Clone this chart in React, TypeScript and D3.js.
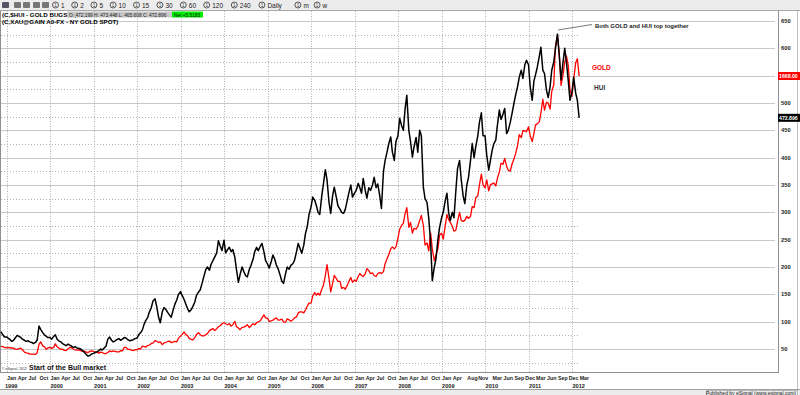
import * as d3 from 'd3';

// semi-monthly samples (1st and 15th), first one is 15 Nov 1998
const hui1998 = [82, 76, 72];
const hui1999 = [72, 70, 67, 64, 66, 70, 75, 73, 71, 68, 66, 64, 65, 63, 62, 60, 62, 66, 92, 86, 80, 76, 73, 71];
const hui2000 = [71, 68, 73, 76, 68, 65, 63, 60, 58, 56, 59, 57, 55, 53, 54, 52, 51, 50, 47, 44, 40, 37, 38, 41];
const hui2001 = [42, 44, 45, 47, 50, 48, 52, 55, 68, 72, 66, 63, 65, 67, 69, 66, 68, 71, 70, 67, 65, 66, 67, 69];
const hui2002 = [70, 76, 80, 85, 95, 102, 108, 118, 126, 138, 142, 128, 108, 98, 118, 126, 122, 117, 112, 108, 122, 132, 140, 150];
const hui2003 = [155, 148, 140, 132, 124, 118, 122, 128, 136, 148, 154, 158, 170, 182, 195, 200, 194, 205, 212, 218, 226, 248, 238, 230];
const hui2004 = [249, 226, 232, 236, 228, 232, 218, 195, 172, 186, 200, 192, 184, 182, 196, 203, 214, 228, 236, 230, 238, 243, 228, 212];
const hui2005 = [205, 198, 210, 222, 215, 204, 196, 186, 174, 170, 188, 200, 196, 203, 206, 212, 228, 243, 234, 225, 240, 261, 275, 296];
const hui2006 = [310, 328, 322, 312, 300, 296, 330, 352, 378, 360, 318, 298, 330, 346, 328, 312, 306, 300, 298, 305, 322, 336, 350, 328];
const hui2007 = [335, 340, 353, 345, 335, 362, 340, 326, 345, 340, 350, 364, 345, 352, 330, 307, 375, 395, 410, 425, 438, 410, 395, 430];
const hui2008 = [440, 472, 458, 450, 490, 514, 450, 430, 401, 420, 437, 410, 450, 440, 346, 325, 318, 290, 245, 175, 200, 215, 250, 272];
const hui2009 = [290, 300, 322, 335, 300, 285, 300, 290, 340, 380, 395, 360, 330, 316, 350, 364, 395, 426, 400, 420, 440, 465, 482, 440];
const hui2010 = [440, 405, 377, 395, 413, 425, 432, 460, 487, 470, 480, 490, 444, 450, 465, 480, 500, 515, 530, 547, 560, 545, 570, 578];
const hui2011 = [570, 530, 505, 540, 552, 565, 585, 602, 560, 554, 523, 510, 530, 560, 575, 600, 626, 590, 542, 570, 600, 575, 540, 505];
const hui2012 = [520, 547, 518, 505, 472.896];

const gold1998 = [295, 294, 290];
const gold1999 = [288, 290, 287, 287, 286, 281, 280, 284, 286, 278, 266, 262, 261, 256, 256, 256, 255, 262, 305, 318, 298, 294, 280, 288];
const gold2000 = [290, 285, 290, 308, 293, 287, 280, 281, 275, 274, 283, 290, 287, 282, 277, 276, 277, 273, 270, 271, 266, 264, 270, 272];
const gold2001 = [270, 264, 266, 261, 266, 264, 258, 259, 264, 272, 268, 272, 270, 267, 267, 273, 273, 290, 290, 280, 280, 276, 274, 278];
const gold2002 = [278, 284, 283, 296, 294, 292, 300, 302, 310, 312, 324, 321, 315, 318, 304, 312, 316, 320, 322, 314, 318, 320, 318, 336];
const gold2003 = [347, 356, 368, 355, 350, 336, 331, 328, 340, 355, 364, 356, 348, 348, 354, 360, 375, 380, 385, 375, 385, 395, 400, 410];
const gold2004 = [415, 410, 405, 410, 398, 405, 422, 395, 388, 380, 392, 393, 398, 405, 390, 400, 410, 405, 415, 420, 425, 440, 455, 440];
const gold2005 = [438, 422, 425, 428, 435, 440, 428, 430, 433, 420, 418, 435, 430, 423, 430, 440, 445, 465, 470, 470, 465, 480, 500, 515];
const gold2006 = [515, 550, 568, 555, 565, 555, 585, 605, 655, 710, 640, 572, 615, 655, 640, 625, 625, 590, 595, 585, 605, 625, 645, 620];
const gold2007 = [632, 625, 650, 665, 655, 650, 663, 690, 680, 665, 668, 655, 650, 665, 670, 665, 675, 715, 740, 760, 790, 800, 790, 800];
const gold2008 = [845, 890, 910, 920, 970, 1000, 900, 925, 870, 895, 890, 905, 935, 960, 910, 810, 820, 780, 870, 790, 730, 760, 790, 860];
const gold2009 = [870, 840, 910, 965, 940, 925, 905, 880, 885, 930, 975, 935, 930, 935, 955, 945, 955, 1005, 1000, 1050, 1060, 1115, 1170, 1115];
const gold2010 = [1100, 1140, 1085, 1115, 1120, 1125, 1110, 1150, 1180, 1225, 1220, 1250, 1210, 1190, 1185, 1220, 1248, 1275, 1315, 1370, 1355, 1390, 1390, 1385];
const gold2011 = [1410, 1365, 1335, 1375, 1420, 1425, 1435, 1480, 1550, 1495, 1535, 1530, 1500, 1590, 1625, 1820, 1870, 1790, 1620, 1665, 1740, 1770, 1720, 1600];
const gold2012 = [1565, 1650, 1735, 1755, 1668];

const hui = [hui1998, hui1999, hui2000, hui2001, hui2002, hui2003, hui2004, hui2005, hui2006, hui2007, hui2008, hui2009, hui2010, hui2011, hui2012].flat();
const gold = [gold1998, gold1999, gold2000, gold2001, gold2002, gold2003, gold2004, gold2005, gold2006, gold2007, gold2008, gold2009, gold2010, gold2011, gold2012].flat();

const years = d3.range(1999, 2013);
const quarterLabels = ['Jan', 'Apr', 'Jul', 'Oct'];
// the axis thins out after 2008
const lateTicks: [number, number, string][] = [
  [2009, 0, 'Jan'], [2009, 3, 'Apr'], [2009, 7, 'Aug'], [2009, 10, 'Nov'],
  [2010, 2, 'Mar'], [2010, 5, 'Jun'], [2010, 8, 'Sep'], [2010, 11, 'Dec'],
  [2011, 2, 'Mar'], [2011, 5, 'Jun'], [2011, 8, 'Sep'], [2011, 11, 'Dec'],
  [2012, 2, 'Mar'],
];
const huiTicks = d3.range(50, 651, 50);
const huiLabels = huiTicks.filter((v) => v !== 550); // 550 sits under the gold price tag
const toolbarItems = ['1', '2', '5', '10', '15', '30', '60', '120', '240', 'Daily', 'm', 'w'];

const font = '"Liberation Sans", Arial, sans-serif';

function sampleDate(i: number) {
  const k = i + 1; // k=0 would be 1 Nov 1998
  return new Date(1998, 10 + Math.floor(k / 2), k % 2 === 0 ? 1 : 15);
}

export default function App() {
  const x = d3.scaleTime().domain([new Date(1999, 0, 1), new Date(2012, 0, 1)]).range([6.5, 572]);
  const yHui = d3.scaleLinear().domain([50, 650]).range([349, 21]);
  const yGold = d3.scaleLinear().domain([0, 1668]).range([404.5, 76]);

  const huiLine = d3.line<number>().x((_, i) => x(sampleDate(i))).y((d) => yHui(d));
  const goldLine = d3.line<number>().x((_, i) => x(sampleDate(i))).y((d) => yGold(d));

  const monthTicks: { d: Date; label: string }[] = [];
  years.filter((yr) => yr <= 2008).forEach((yr) => {
    quarterLabels.forEach((m, q) => monthTicks.push({ d: new Date(yr, q * 3, 1), label: m }));
  });
  lateTicks.forEach(([yr, mo, label]) => monthTicks.push({ d: new Date(yr, mo, 1), label }));

  const plotRight = 778;
  const plotBottom = 372.5;
  const dataRight = 580;

  let tx = 52;
  const toolbar = toolbarItems.map((t) => {
    const w = 9 + t.length * 4.2 + 6;
    const item = { t, x: tx };
    tx += w;
    return item;
  });

  return (
    <svg width={800} height={395} style={{ position: 'absolute', left: 0, top: 0, background: '#fff' }} fontFamily={font}>
      {/* toolbar */}
      <rect x={0} y={0} width={800} height={10} fill="#ececec" />
      <line x1={0} x2={800} y1={10.5} y2={10.5} stroke="#a8a8a8" />
      {[2, 14, 23, 33, 42].map((ix, i) => (
        <rect key={i} x={ix} y={2} width={7} height={6} fill={i === 0 ? '#556' : '#777'} rx={1} />
      ))}
      {toolbar.map((b) => (
        <g key={b.t}>
          <circle cx={b.x + 3.5} cy={5} r={3} fill="none" stroke="#333" strokeWidth={0.8} />
          <text x={b.x + 3.5} y={6.8} fontSize={4.5} textAnchor="middle" fill="#333">1</text>
          <text x={b.x + 9} y={7.5} fontSize={6.5} fill="#222">{b.t}</text>
        </g>
      ))}

      {/* grid */}
      {huiTicks.map((v) => (
        <line key={'h' + v} x1={1} x2={775} y1={Math.round(yHui(v)) + 0.5} y2={Math.round(yHui(v)) + 0.5} stroke="#c8c8c8" />
      ))}
      {huiTicks.map((v) => v - 25).concat([625]).map((v) => (
        <line key={'d' + v} x1={1} x2={dataRight} y1={Math.round(yHui(v)) + 0.5} y2={Math.round(yHui(v)) + 0.5} stroke="#b0b0b0" strokeDasharray="1,2" />
      ))}
      {years.map((yr) => (
        <line key={'v' + yr} x1={Math.round(x(new Date(yr, 0, 1))) + 0.5} x2={Math.round(x(new Date(yr, 0, 1))) + 0.5} y1={11} y2={plotBottom} stroke="#b0b0b0" strokeDasharray="1,1.5" />
      ))}

      {/* frame */}
      <line x1={0.5} x2={0.5} y1={11} y2={plotBottom} stroke="#909090" />
      <line x1={plotRight + 0.5} x2={plotRight + 0.5} y1={11} y2={plotBottom} stroke="#909090" />
      <line x1={0} x2={plotRight + 1} y1={plotBottom} y2={plotBottom} stroke="#909090" />
      <line x1={797.5} x2={797.5} y1={11} y2={389} stroke="#c0c0c0" />

      {/* series */}
      <path d={goldLine(gold) || ''} fill="none" stroke="#ff0000" strokeWidth={1.3} strokeLinejoin="round" />
      <path d={huiLine(hui) || ''} fill="none" stroke="#000" strokeWidth={1.5} strokeLinejoin="round" />

      {/* titles */}
      <text x={2} y={17} fontSize={6.2} fontWeight="bold">(C,$HUI - GOLD BUGS,W)</text>
      <rect x={67} y={11.5} width={105} height={6} fill="#c8c8c8" />
      <text x={69} y={16.6} fontSize={4.8} fill="#222">O: 472.199   H: 473.448   L: 465.608   C: 472.896</text>
      <rect x={172} y={11.5} width={31} height={6} fill="#00ee00" />
      <text x={174} y={16.6} fontSize={4.8} fill="#111">Net +5.5183</text>
      <text x={2} y={23.5} fontSize={6.2} fontWeight="bold">(C,XAU@GAIN A0-FX - NY GOLD SPOT)</text>

      {/* annotations */}
      <line x1={558} y1={30} x2={592} y2={24.5} stroke="#555" strokeWidth={0.8} />
      <text x={595} y={27.5} fontSize={6} fontWeight="bold" fill="#222">Both GOLD and HUI top together</text>
      <text x={592} y={70} fontSize={6.5} fontWeight="bold" fill="#ff0000">GOLD</text>
      <text x={594} y={90} fontSize={6.5} fontWeight="bold" fill="#333">HUI</text>
      <text x={29} y={369.5} fontSize={7} fontWeight="bold" fill="#111">Start of the Bull market</text>
      <text x={2} y={370} fontSize={3.5} fill="#333">© eSignal, 2012</text>

      {/* right axis */}
      {huiLabels.map((v) => (
        <text key={'t' + v} x={781} y={yHui(v) + 2} fontSize={5.8} fontWeight="bold" fill="#222">{v}</text>
      ))}
      <rect x={778} y={yGold(1668) - 4} width={22} height={8} fill="#ff0000" />
      <text x={779} y={yGold(1668) + 2} fontSize={5.2} fontWeight="bold" fill="#fff">1668.00</text>
      <rect x={778} y={yHui(472.896) - 4} width={22} height={8} fill="#000" />
      <text x={779} y={yHui(472.896) + 2} fontSize={5.2} fontWeight="bold" fill="#fff">472.896</text>

      {/* time axis */}
      {monthTicks.map((t, i) => (
        <text key={'m' + i} x={x(t.d) + 0.5} y={380} fontSize={5.3} fontWeight="bold" fill="#222">{t.label}</text>
      ))}
      {years.map((yr) => (
        <text key={'y' + yr} x={x(new Date(yr, 0, 1)) - (yr === 1999 ? 1.5 : -0.5)} y={387.5} fontSize={5.6} fontWeight="bold" fill="#222">{yr}</text>
      ))}

      {/* status bar */}
      <rect x={0} y={389} width={800} height={6} fill="#ececec" />
      <line x1={0} x2={800} y1={389.5} y2={389.5} stroke="#a0a0a0" />
      <rect x={706.5} y={390.5} width={91} height={5} fill="none" stroke="#b8b8b8" />
      <text x={796} y={394.8} fontSize={5} textAnchor="end" fill="#222">Published by eSignal (www.esignal.com)</text>
    </svg>
  );
}
